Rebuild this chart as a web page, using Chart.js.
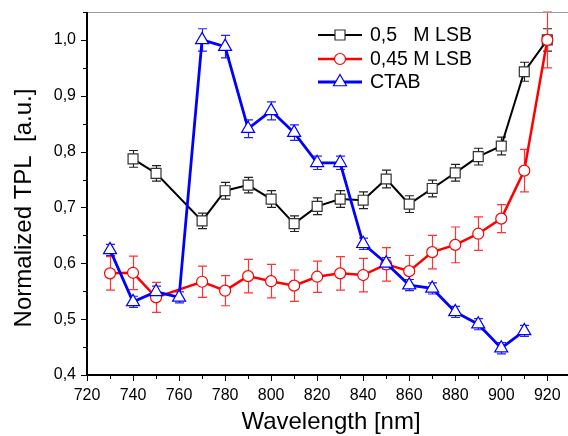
<!DOCTYPE html>
<html>
<head>
<meta charset="utf-8">
<script src="https://cdn.jsdelivr.net/npm/chart.js@4/dist/chart.umd.min.js"></script>
<style>
  html, body { margin: 0; padding: 0; background: #fff; }
  #wrap { width: 568px; height: 436px; }
</style>
</head>
<body>
<div id="wrap"><canvas id="c" width="568" height="436"></canvas></div>
<script>
// Axis ticks
const wavelengthTicks = [720, 740, 760, 780, 800, 820, 840, 860, 880, 900, 920];
const tplTicks = [0.4, 0.5, 0.6, 0.7, 0.8, 0.9, 1.0];

// 0,5 M LSB
const lsb05Wavelength = [740, 750, 770, 780, 790, 800, 810, 820, 830, 840, 850, 860, 870, 880, 890, 900, 910, 920];
const lsb05Tpl = [0.787, 0.761, 0.676, 0.730, 0.740, 0.715, 0.671, 0.702, 0.715, 0.713, 0.751, 0.706, 0.734, 0.762, 0.791, 0.810, 0.943, 1.000];
const lsb05Err = [0.015, 0.014, 0.014, 0.015, 0.014, 0.015, 0.014, 0.015, 0.015, 0.015, 0.016, 0.015, 0.015, 0.015, 0.015, 0.016, 0.017, 0.020];

// 0,45 M LSB
const lsb045Wavelength = [730, 740, 750, 770, 780, 790, 800, 810, 820, 830, 840, 850, 860, 870, 880, 890, 900, 910, 920];
const lsb045Tpl = [0.582, 0.583, 0.539, 0.567, 0.551, 0.577, 0.568, 0.560, 0.576, 0.582, 0.579, 0.598, 0.586, 0.620, 0.633, 0.653, 0.680, 0.766, 1.000];
const lsb045Err = [0.030, 0.030, 0.027, 0.028, 0.027, 0.030, 0.030, 0.028, 0.028, 0.030, 0.030, 0.030, 0.028, 0.030, 0.032, 0.030, 0.025, 0.038, 0.050];

// CTAB
const ctabWavelength = [730, 740, 750, 760, 770, 780, 790, 800, 810, 820, 830, 840, 850, 860, 870, 880, 890, 900, 910];
const ctabTpl = [0.624, 0.531, 0.549, 0.539, 1.000, 0.988, 0.841, 0.873, 0.834, 0.780, 0.780, 0.635, 0.600, 0.561, 0.555, 0.513, 0.491, 0.448, 0.479];
const ctabErr = [0.010, 0.010, 0.010, 0.010, 0.020, 0.020, 0.016, 0.016, 0.014, 0.012, 0.012, 0.010, 0.010, 0.010, 0.010, 0.010, 0.010, 0.010, 0.010];

const FONT = "'Liberation Sans', Arial, sans-serif";

function toPoints(xs, ys) {
  return xs.map((x, i) => ({ x: x, y: ys[i] }));
}

// Fixed scale boxes so the plot area sits at a known place
function fixBox(sc, size) {
  if (sc.isHorizontal()) sc.height = size; else sc.width = size;
  sc.paddingTop = 0; sc.paddingBottom = 0;
  sc.paddingLeft = 0; sc.paddingRight = 0;
}

// Vertical error bars with caps, drawn under the lines and markers
const errorBarPlugin = {
  id: 'errorBars',
  beforeDatasetsDraw(chart) {
    const ctx = chart.ctx;
    const xs = chart.scales.x, ys = chart.scales.y;
    chart.data.datasets.forEach(ds => {
      if (!ds.errors) return;
      ctx.save();
      ctx.strokeStyle = ds.errorColor || ds.borderColor;
      ctx.lineWidth = 1.2;
      ds.data.forEach((p, i) => {
        const e = ds.errors[i];
        const px = Math.round(xs.getPixelForValue(p.x)) + 0.5;
        const top = ys.getPixelForValue(p.y + e);
        const bot = ys.getPixelForValue(p.y - e);
        ctx.beginPath();
        ctx.moveTo(px, top); ctx.lineTo(px, bot);
        ctx.moveTo(px - 4.5, top); ctx.lineTo(px + 4.5, top);
        ctx.moveTo(px - 4.5, bot); ctx.lineTo(px + 4.5, bot);
        ctx.stroke();
      });
      ctx.restore();
    });
  }
};

// Axis lines, outward tick marks, axis titles and the in-plot legend
const framePlugin = {
  id: 'frame',
  afterDraw(chart) {
    const ctx = chart.ctx;
    const a = chart.chartArea;
    const xs = chart.scales.x, ys = chart.scales.y;
    ctx.save();

    // top border
    ctx.strokeStyle = '#9a9a9a';
    ctx.lineWidth = 1;
    ctx.beginPath();
    ctx.moveTo(a.left, a.top + 0.5); ctx.lineTo(a.right, a.top + 0.5);
    ctx.stroke();

    // left and bottom axes
    ctx.strokeStyle = '#000';
    ctx.lineWidth = 2;
    ctx.beginPath();
    ctx.moveTo(a.left, a.top); ctx.lineTo(a.left, a.bottom + 1);
    ctx.moveTo(a.left - 1, a.bottom); ctx.lineTo(a.right, a.bottom);
    ctx.stroke();

    ctx.lineWidth = 1;
    ctx.beginPath();
    for (let w = 720; w <= 920; w += 10) {
      const px = Math.round(xs.getPixelForValue(w)) + 0.5;
      const len = (w % 20 === 0) ? 6 : 4;
      ctx.moveTo(px, a.bottom); ctx.lineTo(px, a.bottom + len);
    }
    for (let k = 0; k <= 13; k++) {
      const v = 0.4 + k * 0.05;
      if (v > 1.05) break;
      const py = Math.round(ys.getPixelForValue(v)) + 0.5;
      const len = (k % 2 === 0) ? 6 : 4;
      ctx.moveTo(a.left, py); ctx.lineTo(a.left - len, py);
    }
    ctx.stroke();

    // axis titles
    ctx.fillStyle = '#000';
    ctx.font = '24px ' + FONT;
    ctx.textAlign = 'center';
    ctx.textBaseline = 'middle';
    ctx.fillText('Wavelength [nm]', 331, 422);
    ctx.save();
    ctx.translate(24, 208);
    ctx.rotate(-Math.PI / 2);
    ctx.fillText('Normalized TPL  [a.u.]', 0, 0);
    ctx.restore();

    // legend
    const rows = [
      { ds: chart.data.datasets[0], y: 35 },
      { ds: chart.data.datasets[1], y: 59 },
      { ds: chart.data.datasets[2], y: 82 }
    ];
    ctx.font = '19.5px ' + FONT;
    ctx.textAlign = 'left';
    const textX = 370;
    const mX = textX + ctx.measureText('0,45 ').width;
    rows.forEach(r => {
      const ds = r.ds;
      ctx.strokeStyle = ds.borderColor;
      ctx.lineWidth = ds.borderWidth;
      ctx.beginPath();
      ctx.moveTo(318, r.y); ctx.lineTo(362, r.y);
      ctx.stroke();
      ctx.fillStyle = '#fff';
      ctx.strokeStyle = ds.pointBorderColor;
      ctx.lineWidth = 1.2;
      ctx.beginPath();
      const cx = 340;
      if (ds.pointStyle === 'rect') {
        ctx.rect(cx - 5, r.y - 5, 10, 10);
      } else if (ds.pointStyle === 'circle') {
        ctx.arc(cx, r.y, 5.5, 0, Math.PI * 2);
      } else {
        const rr = 7.5;
        ctx.moveTo(cx, r.y - rr);
        ctx.lineTo(cx + rr * 0.866, r.y + rr * 0.5);
        ctx.lineTo(cx - rr * 0.866, r.y + rr * 0.5);
        ctx.closePath();
      }
      ctx.fill();
      ctx.stroke();
      ctx.fillStyle = '#000';
      if (ds.label === '0,5 M LSB') {
        ctx.fillText('0,5', textX, r.y + 1);
        ctx.fillText('M LSB', mX, r.y + 1);
      } else {
        ctx.fillText(ds.label, textX, r.y + 1);
      }
    });
    ctx.restore();
  }
};

new Chart(document.getElementById('c'), {
  type: 'line',
  data: {
    datasets: [
      {
        label: '0,5 M LSB',
        data: toPoints(lsb05Wavelength, lsb05Tpl),
        errors: lsb05Err,
        borderColor: '#000',
        errorColor: '#222',
        borderWidth: 2,
        pointStyle: 'rect',
        pointRadius: 7,
        pointBorderColor: '#333',
        pointBackgroundColor: '#fff',
        pointBorderWidth: 1.2,
        order: 2
      },
      {
        label: '0,45 M LSB',
        data: toPoints(lsb045Wavelength, lsb045Tpl),
        errors: lsb045Err,
        borderColor: '#ff0000',
        errorColor: '#f33',
        borderWidth: 2.5,
        pointStyle: 'circle',
        pointRadius: 5.5,
        pointBorderColor: '#ff0000',
        pointBackgroundColor: '#fff',
        pointBorderWidth: 1.2,
        order: 1
      },
      {
        label: 'CTAB',
        data: toPoints(ctabWavelength, ctabTpl),
        errors: ctabErr,
        borderColor: '#0000ff',
        errorColor: '#22f',
        borderWidth: 2.8,
        pointStyle: 'triangle',
        pointRadius: 7.5,
        pointBorderColor: '#0000ff',
        pointBackgroundColor: '#fff',
        pointBorderWidth: 1.2,
        order: 0
      }
    ]
  },
  options: {
    responsive: false,
    animation: false,
    devicePixelRatio: 1,
    clip: false,
    layout: { autoPadding: false, padding: { top: 12, left: 0, right: 0, bottom: 0 } },
    elements: { line: { tension: 0 } },
    plugins: { legend: { display: false }, tooltip: { enabled: false } },
    scales: {
      x: {
        type: 'linear',
        min: 720,
        max: 929,
        afterBuildTicks: sc => { sc.ticks = wavelengthTicks.map(v => ({ value: v })); },
        afterFit: sc => fixBox(sc, 61),
        grid: { display: false, drawTicks: false },
        border: { display: false },
        // labels pushed down through the line height, keeping tick padding at zero
        ticks: { color: '#000', font: { family: FONT, size: 16, lineHeight: 2.625 }, padding: 0, maxRotation: 0, autoSkip: false }
      },
      y: {
        type: 'linear',
        min: 0.4,
        max: 1.05,
        afterBuildTicks: sc => { sc.ticks = tplTicks.map(v => ({ value: v })); },
        afterFit: sc => fixBox(sc, 87),
        grid: { display: false, drawTicks: false },
        border: { display: false },
        ticks: {
          color: '#000',
          font: { family: FONT, size: 16 },
          padding: 11,
          autoSkip: false,
          callback: v => v.toFixed(1).replace('.', ',')
        }
      }
    }
  },
  plugins: [errorBarPlugin, framePlugin]
});
</script>
</body>
</html>
